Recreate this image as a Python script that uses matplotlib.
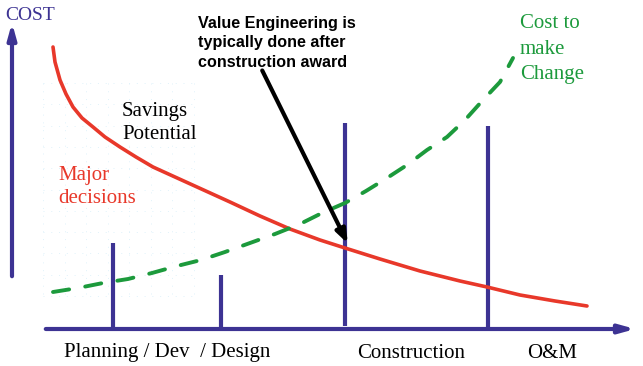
import numpy as np
import matplotlib.pyplot as plt

# values (pixel-like units, y grows downward)
red_x = [53, 55, 60, 66, 73, 82, 93, 105, 120, 136, 153, 175, 197, 230, 260, 290, 320, 345, 380, 420, 460, 487, 520, 555, 587]
red_y = [47, 62, 80, 94, 107, 118, 127, 137, 147, 157, 167, 177, 187, 202, 216, 229, 240, 248, 259, 271, 281, 287, 295, 301, 306]
green_x = [53, 78, 103, 128, 152, 177, 201, 225, 250, 275, 300, 322, 345, 366, 387, 407, 427, 447, 465, 483, 500, 513]
green_y = [292, 288, 283, 279, 273, 266, 260, 252, 243, 234, 224, 213, 203, 191, 178, 165, 150, 137, 120, 100, 82, 58]
bar_x = [113, 221, 345, 488]
bar_top = [243, 275, 123, 126]
bar_bottom = [328, 328, 326, 328]
phase_labels = ['Planning / Dev  / Design', 'Construction', 'O&M']
phase_label_x = [64, 357, 527]

axis_col = '#3d3393'
red = '#e8382a'
green = '#1c9a3c'
serif = 'Liberation Serif'

fig = plt.figure(figsize=(6.43, 3.66), dpi=100)
ax = fig.add_axes([0, 0, 1, 1])
ax.set_xlim(0, 643)
ax.set_ylim(366, 0)
ax.axis('off')

# faint dotted background grid on the left
gx = np.arange(43, 200, 21.5)
gy = np.arange(83, 300, 21.3)
ax.vlines(gx, 83, 297, color='#e0f2fa', lw=0.7, linestyles=(0, (1, 7)))
ax.hlines(gy, 43, 193, color='#e0f2fa', lw=0.7, linestyles=(0, (1, 7)))

# axes with arrows
ax.annotate('', xy=(12, 20), xytext=(12, 279),
            arrowprops=dict(arrowstyle='-|>,head_length=0.9,head_width=0.25', color=axis_col, lw=3))
ax.annotate('', xy=(638, 329), xytext=(43, 329),
            arrowprops=dict(arrowstyle='-|>,head_length=0.9,head_width=0.25', color=axis_col, lw=3))
ax.text(5, 15, 'COST', color=axis_col, fontsize=14, family=serif, va='center', ha='left')

ax.vlines(bar_x, bar_top, bar_bottom, color=axis_col, lw=3)

ax.plot(red_x, red_y, color=red, lw=2.6, solid_capstyle='round', solid_joinstyle='round')
ax.plot(green_x, green_y, color=green, lw=2.8, ls=(0, (4.2, 4.2)), dash_capstyle='round')

ax.text(122, 123, 'Savings\nPotential', fontsize=15, family=serif, va='center', ha='left', linespacing=1.35)
ax.text(58, 187, 'Major\ndecisions', color=red, fontsize=15, family=serif, va='center', ha='left', linespacing=1.3)
ax.text(520, 49, 'Cost to\nmake\nChange', color=green, fontsize=15, family=serif, va='center', ha='left', linespacing=1.45)

ax.text(198, 43, 'Value Engineering is\ntypically done after\nconstruction award', fontsize=11.6,
        family='Liberation Sans', weight='bold', va='center', ha='left', linespacing=1.4)
ax.annotate('', xy=(349, 246), xytext=(261, 68),
            arrowprops=dict(arrowstyle='-|>,head_length=0.8,head_width=0.3', color='black', lw=3))

for lab, x in zip(phase_labels, phase_label_x):
    ax.text(x, 353, lab, fontsize=15, family=serif, va='center', ha='left')

fig.savefig('out.png', dpi=100)
